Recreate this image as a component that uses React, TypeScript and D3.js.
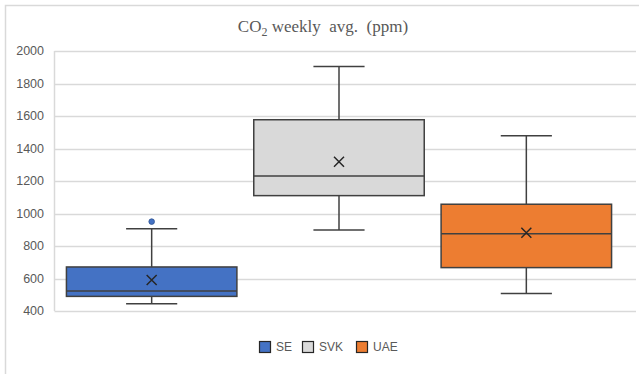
import React from "react";
import * as d3 from "d3";

// Summary statistics per site (ppm)
const sites = ["SE", "SVK", "UAE"];
const whiskerLow = [445, 898, 507];
const quartile1 = [490, 1110, 667];
const medians = [523, 1231, 876];
const quartile3 = [671, 1577, 1057];
const whiskerHigh = [906, 1904, 1479];
const means = [591, 1319, 882];
const outliers = [[950], [], []];
const fills = ["#4472C4", "#D9D9D9", "#ED7D31"];
const yTicks = [400, 600, 800, 1000, 1200, 1400, 1600, 1800, 2000];

const W = 639;
const H = 374;

export default function App() {
  const y = d3.scaleLinear().domain([400, 2000]).range([311, 51]);
  const x = d3
    .scaleBand<string>()
    .domain(sites)
    .range([58, 620])
    .paddingInner(0.09)
    .paddingOuter(0.045);
  const plotLeft = 54.5;
  const plotRight = 636;
  const bw = x.bandwidth();
  const capW = bw * 0.3;
  const stroke = "#404040";
  const textColor = "#595959";

  const legendX = [259, 302, 356];

  return (
    <svg
      width={W}
      height={H}
      style={{ position: "absolute", left: 0, top: 0, background: "#fff" }}
    >
      <rect x={5.5} y={5.5} width={W + 10} height={H + 10} fill="#fff" stroke="#d9d9d9" strokeWidth={1.5} />
      <text
        x={323}
        y={32}
        textAnchor="middle"
        fontFamily="'Liberation Serif', 'DejaVu Serif', serif"
        fontSize={17}
        fill={textColor}
        style={{ whiteSpace: "pre" }}
      >
        CO<tspan fontSize={12} dy={4}>2</tspan>
        <tspan dy={-4}>{" weekly  avg.  (ppm)"}</tspan>
      </text>

      {yTicks.map((t) => (
        <g key={t}>
          <line
            x1={plotLeft}
            x2={plotRight}
            y1={Math.round(y(t)) + 0.5}
            y2={Math.round(y(t)) + 0.5}
            stroke="#d9d9d9"
            strokeWidth={1.5}
          />
          <text
            x={44}
            y={y(t)}
            dy="0.35em"
            textAnchor="end"
            fontFamily="'Liberation Sans', Arial, sans-serif"
            fontSize={12.5}
            fill={textColor}
          >
            {t}
          </text>
        </g>
      ))}
      <line x1={plotLeft} x2={plotLeft} y1={y(2000)} y2={y(400)} stroke="#d9d9d9" strokeWidth={1.5} />

      {sites.map((s, i) => {
        const x0 = x(s)!;
        const cx = x0 + bw / 2;
        const m = y(means[i]);
        return (
          <g key={s}>
            <line x1={cx} x2={cx} y1={y(whiskerHigh[i])} y2={y(quartile3[i])} stroke={stroke} strokeWidth={1.5} />
            <line x1={cx} x2={cx} y1={y(quartile1[i])} y2={y(whiskerLow[i])} stroke={stroke} strokeWidth={1.5} />
            <line x1={cx - capW / 2} x2={cx + capW / 2} y1={y(whiskerHigh[i])} y2={y(whiskerHigh[i])} stroke={stroke} strokeWidth={1.5} />
            <line x1={cx - capW / 2} x2={cx + capW / 2} y1={y(whiskerLow[i])} y2={y(whiskerLow[i])} stroke={stroke} strokeWidth={1.5} />
            <rect
              x={x0}
              y={y(quartile3[i])}
              width={bw}
              height={y(quartile1[i]) - y(quartile3[i])}
              fill={fills[i]}
              stroke={stroke}
              strokeWidth={1.5}
            />
            <line x1={x0} x2={x0 + bw} y1={y(medians[i])} y2={y(medians[i])} stroke={stroke} strokeWidth={1.5} />
            <path
              d={`M${cx - 5},${m - 5}L${cx + 5},${m + 5}M${cx - 5},${m + 5}L${cx + 5},${m - 5}`}
              stroke="#262626"
              strokeWidth={1.5}
              fill="none"
            />
            {outliers[i].map((o, j) => (
              <circle key={j} cx={cx} cy={y(o)} r={2.8} fill={fills[i]} stroke="#2f528f" strokeWidth={0.8} />
            ))}
          </g>
        );
      })}

      {sites.map((s, i) => (
        <g key={s} transform={`translate(${legendX[i]},341)`}>
          <rect x={0.5} y={0.5} width={11} height={11} fill={fills[i]} stroke="#262626" strokeWidth={1.2} />
          <text
            x={17}
            y={6}
            dy="0.35em"
            fontFamily="'Liberation Sans', Arial, sans-serif"
            fontSize={12}
            fill={textColor}
          >
            {s}
          </text>
        </g>
      ))}
    </svg>
  );
}
